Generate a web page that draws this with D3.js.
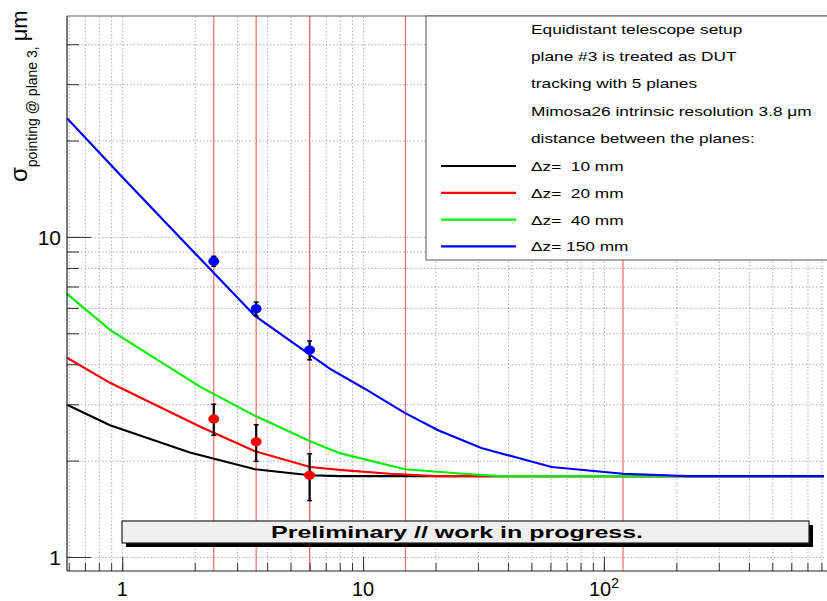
<!DOCTYPE html>
<html>
<head>
<meta charset="utf-8">
<script src="https://cdn.jsdelivr.net/npm/d3@7"></script>
<style>
    body { margin: 0; background: #fff; }
    svg { font-family: "Liberation Sans", Arial, Helvetica, sans-serif; }
    .grid line { stroke: #9a9a9a; stroke-dasharray: 1.5,2; stroke-width: 0.8; }
    .grid path { display: none; }
    .axis path { display: none; }
    .axis line { stroke: #333; }
</style>
</head>
<body>
<div id="chart"></div>
<script>
// beam energies (GeV) where measurements were taken / marked
const beamEnergies = [2.4, 3.6, 6, 15, 120];

// measured points
const measEnergy = [2.4, 3.6, 6];
const meas150 = [8.4, 5.96, 4.43];
const meas20 = [2.70, 2.29, 1.80];
const measErr = [0.3, 0.3, 0.3];

// expected pointing resolution curves
const dz10Energy = [0.59, 0.89, 1.91, 3.56, 6.03, 8, 820];
const dz10Sigma = [2.99, 2.58, 2.12, 1.88, 1.80, 1.79, 1.79];
const dz20Energy = [0.59, 0.89, 2.11, 3.56, 6.03, 8, 12.9, 20, 820];
const dz20Sigma = [4.19, 3.50, 2.55, 2.14, 1.91, 1.87, 1.82, 1.79, 1.79];
const dz40Energy = [0.59, 0.89, 2.11, 3.56, 6.03, 8, 14.9, 26, 37, 820];
const dz40Sigma = [6.64, 5.12, 3.40, 2.76, 2.30, 2.11, 1.88, 1.82, 1.79, 1.79];
const dz150Energy = [0.59, 1, 2, 3.56, 6.03, 7.3, 10.2, 14.9, 20.5, 31, 60.6, 120, 222, 820];
const dz150Sigma = [23.5, 15.4, 8.91, 5.66, 4.28, 3.87, 3.35, 2.82, 2.49, 2.19, 1.91, 1.82, 1.79, 1.79];

const seriesLabels = ["\u0394z=  10 mm", "\u0394z=  20 mm", "\u0394z=  40 mm", "\u0394z= 150 mm"];
const seriesColors = ["#000000", "#ff0000", "#00ee00", "#0000ff"];

const legendNotes = [
    "Equidistant telescope setup",
    "plane #3 is treated as DUT",
    "tracking with 5 planes",
    "Mimosa26 intrinsic resolution 3.8 \u03bcm",
    "distance between the planes:"
];

const xMajorTicks = [1, 10, 100];
const xTickLabels = ["1", "10", "10"];
const yMajorTicks = [1, 10];
const yTickLabels = ["1", "10"];

class PointingChart {

    constructor(parentElement) {
        this.parentElement = parentElement;
        this.series = [
            { x: dz10Energy, y: dz10Sigma },
            { x: dz20Energy, y: dz20Sigma },
            { x: dz40Energy, y: dz40Sigma },
            { x: dz150Energy, y: dz150Sigma }
        ];
        this.initVis();
    }

    initVis() {
        let vis = this;

        vis.margin = { top: 16, right: 3, bottom: 30, left: 67 };
        vis.width = 827 - vis.margin.left - vis.margin.right;
        vis.height = 601 - vis.margin.top - vis.margin.bottom;

        vis.svg = d3.select("#" + vis.parentElement).append("svg")
            .attr("width", 827)
            .attr("height", 601);

        vis.g = vis.svg.append("g")
            .attr("transform", `translate(${vis.margin.left},${vis.margin.top})`);

        vis.x = d3.scaleLog().domain([0.59, 820]).range([0, vis.width]);
        vis.y = d3.scaleLog().domain([0.904, 49]).range([vis.height, 0]);

        // dotted grid at every tick
        vis.g.append("g").attr("class", "grid")
            .attr("transform", `translate(0,${vis.height})`)
            .call(d3.axisBottom(vis.x).tickValues(vis.x.ticks()).tickSize(-vis.height).tickFormat(""));
        vis.g.append("g").attr("class", "grid")
            .call(d3.axisLeft(vis.y).tickValues(vis.y.ticks()).tickSize(-vis.width).tickFormat(""));

        // beam energy markers
        vis.g.selectAll(".beam")
            .data(beamEnergies)
            .enter().append("line")
            .attr("class", "beam")
            .attr("x1", d => vis.x(d)).attr("x2", d => vis.x(d))
            .attr("y1", 0).attr("y2", vis.height)
            .attr("stroke", "#f25c5c")
            .attr("stroke-opacity", 0.85)
            .attr("stroke-width", 1.3);

        vis.wrangleData();
    }

    wrangleData() {
        let vis = this;
        vis.lineData = vis.series.map(s => s.x.map((e, i) => [e, s.y[i]]));
        vis.points = [];
        measEnergy.forEach((e, i) => {
            vis.points.push({ e: e, v: meas20[i], err: measErr[i], c: seriesColors[1] });
            vis.points.push({ e: e, v: meas150[i], err: measErr[i], c: seriesColors[3] });
        });
        vis.updateVis();
    }

    updateVis() {
        let vis = this;

        let line = d3.line().x(d => vis.x(d[0])).y(d => vis.y(d[1]));

        vis.g.selectAll(".curve")
            .data(vis.lineData)
            .enter().append("path")
            .attr("class", "curve")
            .attr("d", line)
            .attr("fill", "none")
            .attr("stroke", (d, i) => seriesColors[i])
            .attr("stroke-width", 2.2);

        // error bars
        let eb = vis.g.selectAll(".err")
            .data(vis.points)
            .enter().append("g")
            .attr("class", "err");
        eb.append("line")
            .attr("x1", d => vis.x(d.e)).attr("x2", d => vis.x(d.e))
            .attr("y1", d => vis.y(d.v + d.err)).attr("y2", d => vis.y(d.v - d.err))
            .attr("stroke", "#000").attr("stroke-width", 2.2);
        [1, -1].forEach(s => {
            eb.append("line")
                .attr("x1", d => vis.x(d.e) - 2.5).attr("x2", d => vis.x(d.e) + 2.5)
                .attr("y1", d => vis.y(d.v + s * d.err)).attr("y2", d => vis.y(d.v + s * d.err))
                .attr("stroke", "#000").attr("stroke-width", 1.5);
        });

        vis.g.selectAll(".marker")
            .data(vis.points)
            .enter().append("ellipse")
            .attr("class", "marker")
            .attr("cx", d => vis.x(d.e))
            .attr("cy", d => vis.y(d.v))
            .attr("rx", 5.5).attr("ry", 4.6)
            .attr("fill", d => d.c);

        // axis ticks (inside the frame, ROOT style)
        vis.g.append("g").attr("class", "axis")
            .attr("transform", `translate(0,${vis.height})`)
            .call(d3.axisBottom(vis.x).tickValues(vis.x.ticks()).tickSize(-8).tickFormat(""));
        vis.g.append("g").attr("class", "axis")
            .attr("transform", `translate(0,${vis.height})`)
            .call(d3.axisBottom(vis.x).tickValues(xMajorTicks).tickSize(-14).tickFormat(""));
        vis.g.append("g").attr("class", "axis")
            .call(d3.axisLeft(vis.y).tickValues(vis.y.ticks()).tickSize(-12).tickFormat(""));
        vis.g.append("g").attr("class", "axis")
            .call(d3.axisLeft(vis.y).tickValues(yMajorTicks).tickSize(-24).tickFormat(""));

        // tick labels
        let xl = vis.g.selectAll(".xlab")
            .data(xMajorTicks)
            .enter().append("text")
            .attr("class", "xlab")
            .attr("x", d => vis.x(d))
            .attr("y", vis.height + 25)
            .attr("text-anchor", "middle")
            .attr("font-size", 20)
            .text((d, i) => xTickLabels[i]);
        xl.filter(d => d === 100).append("tspan")
            .attr("dy", -8).attr("font-size", 14).text("2");

        vis.g.selectAll(".ylab")
            .data(yMajorTicks)
            .enter().append("text")
            .attr("class", "ylab")
            .attr("x", -6)
            .attr("y", d => vis.y(d) + 8)
            .attr("text-anchor", "end")
            .attr("font-size", 21)
            .text((d, i) => yTickLabels[i]);

        // y axis title
        let yt = vis.svg.append("text")
            .attr("transform", "translate(27,182) rotate(-90)")
            .attr("font-size", 24);
        yt.append("tspan").text("\u03c3");
        yt.append("tspan").attr("font-size", 14).attr("dy", 10).text("pointing @ plane 3");
        yt.append("tspan").attr("font-size", 14).text(",");
        yt.append("tspan").attr("font-size", 22).attr("dy", -10).attr("dx", 5).text("\u03bcm");

        // legend
        let lg = vis.svg.append("g").attr("transform", "translate(426,16)");
        lg.append("rect")
            .attr("x", 0).attr("y", 0).attr("width", 405).attr("height", 244)
            .attr("fill", "#fff").attr("stroke", "#555").attr("stroke-width", 1);
        legendNotes.forEach((t, i) => {
            lg.append("text")
                .attr("transform", `translate(105,${18 + i * 27.2}) scale(1.28,1)`)
                .attr("font-size", 13.5)
                .text(t);
        });
        seriesLabels.forEach((t, i) => {
            let yy = 150 + i * 26.8;
            lg.append("line")
                .attr("x1", 15).attr("x2", 90).attr("y1", yy).attr("y2", yy)
                .attr("stroke", seriesColors[i]).attr("stroke-width", 2.2);
            lg.append("text")
                .attr("transform", `translate(105,${yy + 5}) scale(1.28,1)`)
                .attr("font-size", 13.5)
                .attr("xml:space", "preserve")
                .style("white-space", "pre")
                .text(t);
        });

        // preliminary banner
        let bn = vis.svg.append("g");
        bn.append("rect").attr("x", 126).attr("y", 525).attr("width", 687).attr("height", 22).attr("fill", "#000");
        bn.append("rect").attr("x", 122).attr("y", 521).attr("width", 687).attr("height", 22)
            .attr("fill", "#efefef").attr("stroke", "#222").attr("stroke-width", 1.2);
        bn.append("text")
            .attr("x", 271).attr("y", 538)
            .attr("font-size", 17).attr("font-weight", "bold")
            .attr("textLength", 372).attr("lengthAdjust", "spacingAndGlyphs")
            .text("Preliminary // work in progress.");

        // frame
        vis.g.append("line").attr("x1", 0).attr("x2", 0).attr("y1", 0).attr("y2", vis.height)
            .attr("stroke", "#222").attr("stroke-width", 1.2);
        vis.g.append("line").attr("x1", 0).attr("x2", vis.width + 3).attr("y1", vis.height).attr("y2", vis.height)
            .attr("stroke", "#222").attr("stroke-width", 1.2);
        vis.g.append("line").attr("x1", 0).attr("x2", vis.width + 3).attr("y1", 0).attr("y2", 0)
            .attr("stroke", "#666").attr("stroke-width", 1);
    }
}

new PointingChart("chart");
</script>
</body>
</html>
